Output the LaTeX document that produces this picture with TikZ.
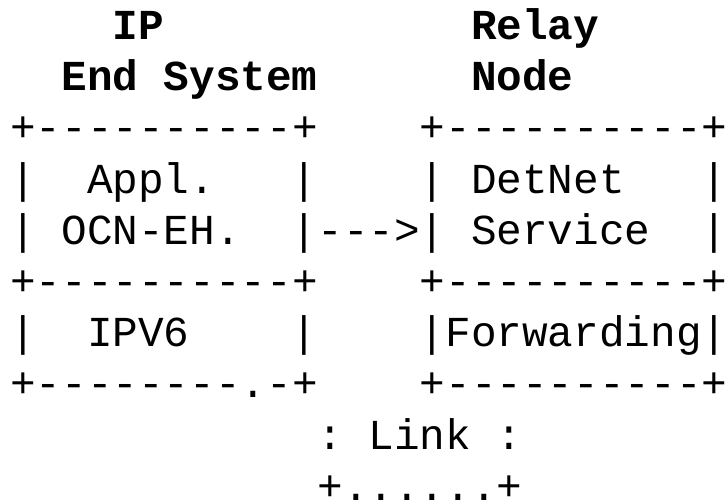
\documentclass[tikz,border=0pt]{standalone}
\usepackage{fontspec}
\setmonofont{Liberation Mono}
\begin{document}
\begin{tikzpicture}[x=1pt,y=1pt,
  ch/.style={anchor=base west,inner sep=0pt,outer sep=0pt,
    font=\ttfamily\fontsize{42.7pt}{51.2pt}\selectfont},
  hd/.style={ch,font=\ttfamily\bfseries\fontsize{42.7pt}{51.2pt}\selectfont}]
\useasboundingbox (0,0) rectangle (727,-502);
\def\X#1{10.2+#1*25.6}
\def\Y#1{-39.5-(#1-1)*51.2}
% headings
\node[hd] (ip)    at ({\X{4}},{\Y{1}}) {IP};
\node[hd] (relay) at ({\X{18}},{\Y{1}}) {Relay};
\node[hd] (end)   at ({\X{2}},{\Y{2}}) {End System};
\node[hd] (node)  at ({\X{18}},{\Y{2}}) {Node};
% left box
\node[ch] (l3)  at ({\X{0}},{\Y{3}}) {+----------+};
\node[ch] (l4a) at ({\X{0}},{\Y{4}}) {|};
\node[ch] (appl) at ({\X{3}},{\Y{4}}) {Appl.};
\node[ch] (l4b) at ({\X{11}},{\Y{4}}) {|};
\node[ch] (l5a) at ({\X{0}},{\Y{5}}) {|};
\node[ch] (ocn) at ({\X{2}},{\Y{5}}) {OCN-EH.};
\node[ch] (arr) at ({\X{11}},{\Y{5}}) {|--->|};
\node[ch] (l6)  at ({\X{0}},{\Y{6}}) {+----------+};
\node[ch] (l7a) at ({\X{0}},{\Y{7}}) {|};
\node[ch] (ipv6) at ({\X{3}},{\Y{7}}) {IPV6};
\node[ch] (l7b) at ({\X{11}},{\Y{7}}) {|};
\node[ch] (l8)  at ({\X{0}},{\Y{8}}) {+--------.-+};
% right box
\node[ch] (r3)  at ({\X{16}},{\Y{3}}) {+----------+};
\node[ch] (r4a) at ({\X{16}},{\Y{4}}) {|};
\node[ch] (detnet) at ({\X{18}},{\Y{4}}) {DetNet};
\node[ch] (r4b) at ({\X{27}},{\Y{4}}) {|};
\node[ch] (serv) at ({\X{18}},{\Y{5}}) {Service};
\node[ch] (r5b) at ({\X{27}},{\Y{5}}) {|};
\node[ch] (r6)  at ({\X{16}},{\Y{6}}) {+----------+};
\node[ch] (fwd) at ({\X{16}},{\Y{7}}) {|Forwarding|};
\node[ch] (r8)  at ({\X{16}},{\Y{8}}) {+----------+};
% link
\node[ch] (c1)   at ({\X{12}},{\Y{9}}) {:};
\node[ch] (link) at ({\X{14}},{\Y{9}}) {Link};
\node[ch] (c2)   at ({\X{19}},{\Y{9}}) {:};
\node[ch] (lk)   at ({\X{12}},{\Y{10}}) {+......+};
\end{tikzpicture}
\end{document}
